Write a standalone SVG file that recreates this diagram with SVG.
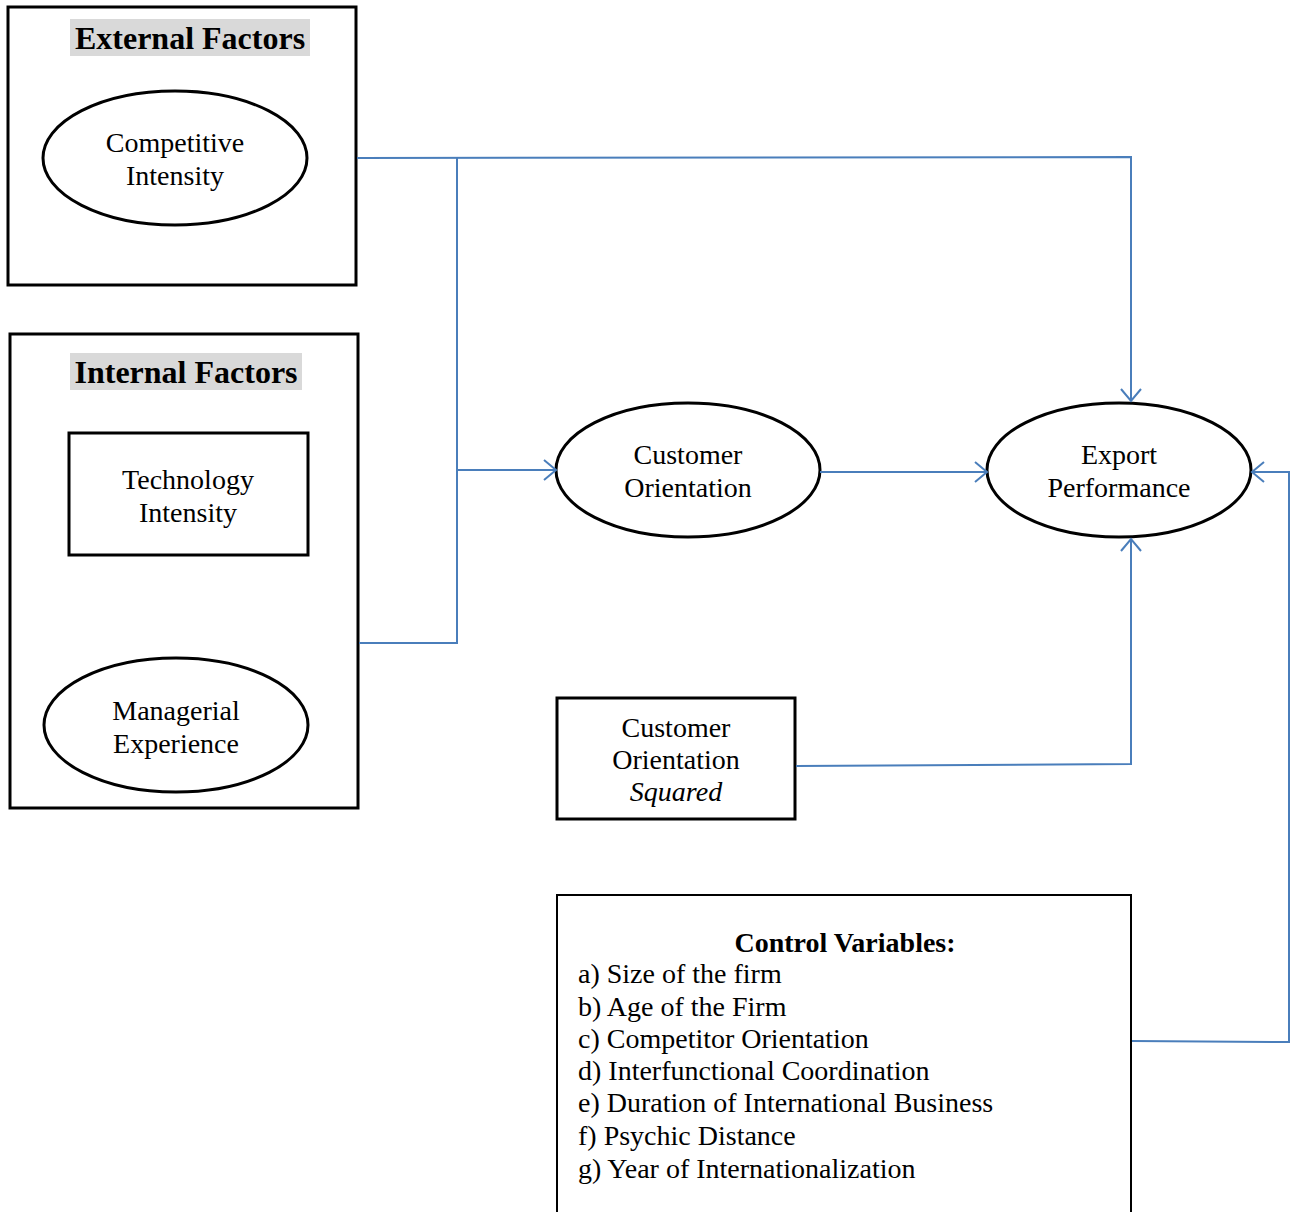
<svg xmlns="http://www.w3.org/2000/svg" width="1291" height="1212" viewBox="0 0 1291 1212">
<defs>
<style>
.box{fill:#fff;stroke:#000;stroke-width:3}
.thin{fill:#fff;stroke:#000;stroke-width:2}
.t{font-family:"Liberation Serif","Times New Roman",serif;font-size:28px;fill:#000}
.c{text-anchor:middle}
.b{font-weight:bold}
.hd{font-family:"Liberation Serif","Times New Roman",serif;font-size:32px;font-weight:bold;text-anchor:middle;fill:#000}
.hbg{fill:#d9d9d9}
.ln{fill:none;stroke:#4a7ebb;stroke-width:2}
</style>
<marker id="ah" markerWidth="16" markerHeight="22" refX="13" refY="11" orient="auto" markerUnits="userSpaceOnUse">
<path d="M1,1 L13,11 L1,21" fill="none" stroke="#4a7ebb" stroke-width="2"/>
</marker>
</defs>
<rect width="1291" height="1212" fill="#fff"/>

<g id="external-factors">
<rect class="box" x="8" y="7" width="348" height="278"/>
<rect class="hbg" x="70" y="19" width="240" height="37"/>
<text class="hd" x="190" y="49">External Factors</text>
</g>
<g id="competitive-intensity">
<ellipse class="box" cx="175" cy="158" rx="132" ry="67"/>
<text class="t c" x="175" y="152">Competitive</text>
<text class="t c" x="175" y="185">Intensity</text>
</g>

<g id="internal-factors">
<rect class="box" x="10" y="334" width="348" height="474"/>
<rect class="hbg" x="70" y="353" width="232" height="37"/>
<text class="hd" x="186" y="383">Internal Factors</text>
</g>
<g id="technology-intensity">
<rect class="box" x="69" y="433" width="239" height="122"/>
<text class="t c" x="188" y="489">Technology</text>
<text class="t c" x="188" y="522">Intensity</text>
</g>
<g id="managerial-experience">
<ellipse class="box" cx="176" cy="725" rx="132" ry="67"/>
<text class="t c" x="176" y="720">Managerial</text>
<text class="t c" x="176" y="753">Experience</text>
</g>

<g id="customer-orientation">
<ellipse class="box" cx="688" cy="470" rx="132" ry="67"/>
<text class="t c" x="688" y="464">Customer</text>
<text class="t c" x="688" y="497">Orientation</text>
</g>

<g id="export-performance">
<ellipse class="box" cx="1119" cy="470" rx="132" ry="67"/>
<text class="t c" x="1119" y="464">Export</text>
<text class="t c" x="1119" y="497">Performance</text>
</g>

<g id="customer-orientation-squared">
<rect class="box" x="557" y="698" width="238" height="121"/>
<text class="t c" x="676" y="737">Customer</text>
<text class="t c" x="676" y="769">Orientation</text>
<text class="t c" x="676" y="801" font-style="italic">Squared</text>
</g>

<g id="control-variables">
<rect class="thin" x="557" y="895" width="574" height="330"/>
<text class="t c b" x="845" y="952">Control Variables:</text>
<text class="t" x="578" y="983">a) Size of the firm</text>
<text class="t" x="578" y="1016">b) Age of the Firm</text>
<text class="t" x="578" y="1048">c) Competitor Orientation</text>
<text class="t" x="578" y="1080">d) Interfunctional Coordination</text>
<text class="t" x="578" y="1112">e) Duration of International Business</text>
<text class="t" x="578" y="1145">f) Psychic Distance</text>
<text class="t" x="578" y="1178">g) Year of Internationalization</text>
</g>

<g id="connectors">
<polyline class="ln" points="357,158 1131,157 1131,401" marker-end="url(#ah)"/>
<polyline class="ln" points="457,158 457,643 359,643"/>
<polyline class="ln" points="457,470 556,470" marker-end="url(#ah)"/>
<polyline class="ln" points="820,472 987,472" marker-end="url(#ah)"/>
<polyline class="ln" points="796,766 1131,764 1131,539" marker-end="url(#ah)"/>
<polyline class="ln" points="1132,1041 1289,1042 1289,472 1252,472" marker-end="url(#ah)"/>
</g>
</svg>
